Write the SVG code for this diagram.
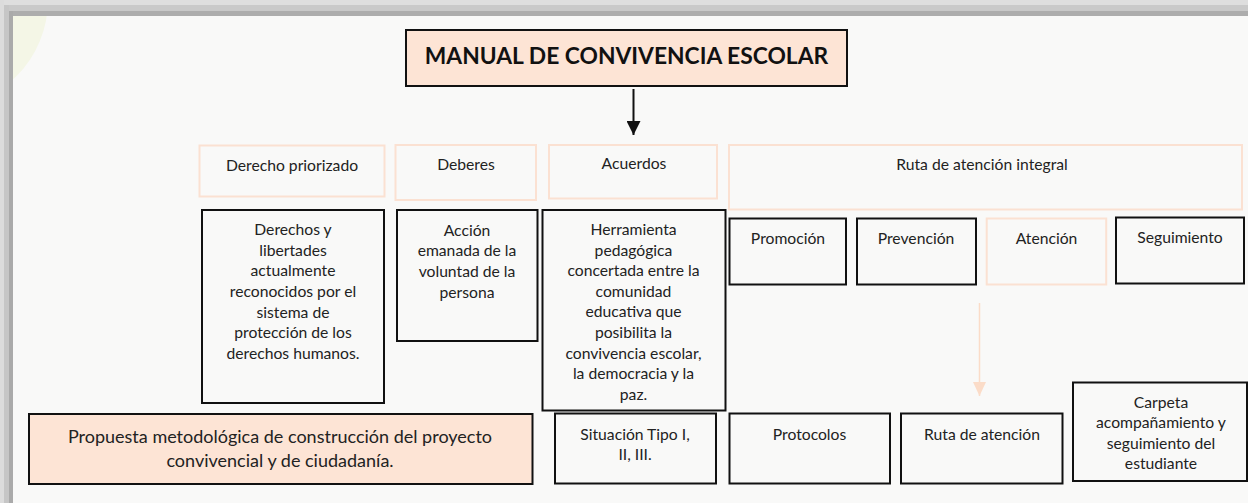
<svg xmlns="http://www.w3.org/2000/svg" width="1248" height="503" viewBox="0 0 1248 503">
<defs>
<style>
text{font-family:Lato,"Open Sans",sans-serif;fill:#222;text-anchor:middle;font-size:15.7px}
.t{font-weight:bold;font-size:22.8px;fill:#111}
.big{font-size:18px}
.blk{fill:none;stroke:#111;stroke-width:2}
.pch{fill:none;stroke:#fbe1d2;stroke-width:2}
.pfill{fill:#fde4d5;stroke:#111;stroke-width:2}
</style>
<marker id="ab" markerWidth="14" markerHeight="14" viewBox="0 0 14 14" refX="14" refY="7" orient="auto" markerUnits="userSpaceOnUse"><path d="M0,0 L14,7 L0,14 Z" fill="#111"/></marker>
<marker id="ap" markerWidth="14" markerHeight="13" viewBox="0 0 14 13" refX="14" refY="6.5" orient="auto" markerUnits="userSpaceOnUse"><path d="M0,0 L14,6.5 L0,13 Z" fill="#fbdcc8"/></marker>
</defs>
<rect width="1248" height="503" fill="#f9f9f8"/>
<circle cx="-60" cy="0" r="108" fill="#f4f6e6"/>
<g id="frame">
<rect x="0" y="0" width="1248" height="5" fill="#dedede"/>
<rect x="0" y="5" width="1248" height="6" fill="#c9c9c9"/>
<rect x="0" y="11" width="1248" height="5" fill="#adadad"/>
<rect x="0" y="0" width="4" height="503" fill="#dcdcdc"/>
<rect x="4" y="5" width="5" height="498" fill="#c6c6c6"/>
<rect x="9" y="11" width="4" height="492" fill="#aaaaaa"/>
</g>
<g id="connectors">
<line x1="633.5" y1="89" x2="633.5" y2="135" stroke="#111" stroke-width="2" marker-end="url(#ab)"/>
<line x1="979.5" y1="303" x2="979.5" y2="396" stroke="#fbdcc8" stroke-width="1.5" marker-end="url(#ap)"/>
</g>
<g id="title"><rect class="pfill" x="406" y="30" width="441" height="56"/><text class="t" x="626.5" y="64">MANUAL DE CONVIVENCIA ESCOLAR</text></g>
<g id="h-derecho"><rect class="pch" x="199.5" y="145.5" width="185" height="51"/><text x="292" y="170.5">Derecho priorizado</text></g>
<g id="h-deberes"><rect class="pch" x="395.5" y="145" width="140.5" height="55"/><text x="466" y="170">Deberes</text></g>
<g id="h-acuerdos"><rect class="pch" x="549" y="145" width="168" height="53.5"/><text x="634" y="169">Acuerdos</text></g>
<g id="h-ruta"><rect class="pch" x="729" y="145" width="513" height="64.5"/><text x="982" y="170">Ruta de atención integral</text></g>
<g id="b-derechos"><rect class="blk" x="202" y="210" width="182" height="193"/>
<text x="293" y="235">Derechos y</text><text x="293" y="255.7">libertades</text><text x="293" y="276.3">actualmente</text><text x="293" y="297">reconocidos por el</text><text x="293" y="317.6">sistema de</text><text x="293" y="338.3">protección de los</text><text x="293" y="359">derechos humanos.</text></g>
<g id="b-accion"><rect class="blk" x="397" y="210" width="140.5" height="131"/>
<text x="467" y="235.5">Acción</text><text x="467" y="256.2">emanada de la</text><text x="467" y="276.8">voluntad de la</text><text x="467" y="297.5">persona</text></g>
<g id="b-herramienta"><rect class="blk" x="542.5" y="210" width="183" height="200.5"/>
<text x="633.5" y="235">Herramienta</text><text x="633.5" y="255.6">pedagógica</text><text x="633.5" y="276.2">concertada entre la</text><text x="633.5" y="296.8">comunidad</text><text x="633.5" y="317.4">educativa que</text><text x="633.5" y="338">posibilita la</text><text x="633.5" y="358.6">convivencia escolar,</text><text x="633.5" y="379.2">la democracia y la</text><text x="633.5" y="399.8">paz.</text></g>
<g id="r-promocion"><rect class="blk" x="729.5" y="218.5" width="116.5" height="66"/><text x="788" y="244">Promoción</text></g>
<g id="r-prevencion"><rect class="blk" x="857" y="218.5" width="119" height="66"/><text x="916" y="244">Prevención</text></g>
<g id="r-atencion"><rect class="pch" x="986.7" y="218.5" width="119.5" height="66"/><text x="1046.5" y="244">Atención</text></g>
<g id="r-seguimiento"><rect class="blk" x="1116" y="217.5" width="128" height="66"/><text x="1180" y="243">Seguimiento</text></g>
<g id="propuesta"><rect class="pfill" x="29" y="414" width="503.5" height="70"/><text class="big" x="280" y="442.5">Propuesta metodológica de construcción del proyecto</text><text class="big" x="280" y="466.5">convivencial y de ciudadanía.</text></g>
<g id="situacion"><rect class="blk" x="555" y="413.5" width="161" height="70"/><text x="635" y="439.5">Situación Tipo I,</text><text x="635" y="460">II, III.</text></g>
<g id="protocolos"><rect class="blk" x="729.5" y="413.5" width="160.5" height="70"/><text x="809.5" y="439.5">Protocolos</text></g>
<g id="ruta-atencion"><rect class="blk" x="901" y="413.5" width="161.5" height="70"/><text x="982" y="439.5">Ruta de atención</text></g>
<g id="carpeta"><rect class="blk" x="1073" y="382.5" width="174" height="98.5"/>
<text x="1161" y="407.5">Carpeta</text><text x="1161" y="428">acompañamiento y</text><text x="1161" y="448.5">seguimiento del</text><text x="1161" y="469">estudiante</text></g>
</svg>
